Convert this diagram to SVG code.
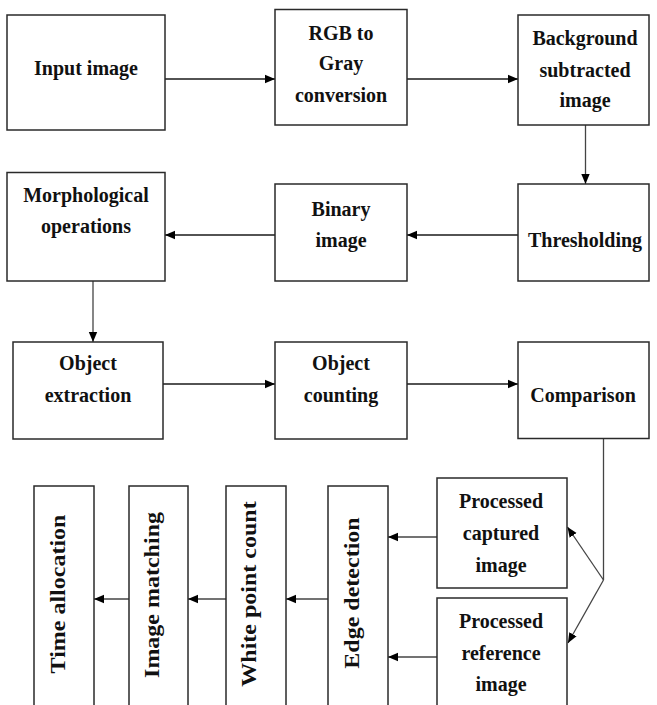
<svg xmlns="http://www.w3.org/2000/svg" width="657" height="705" viewBox="0 0 657 705">
<style>
.box{fill:#fff;stroke:#2a2a2a;stroke-width:1.5}
.t{font-family:"Liberation Serif","Times New Roman",serif;font-weight:bold;font-size:20px;fill:#111;text-anchor:middle}
.v{font-family:"Liberation Serif","Times New Roman",serif;font-weight:bold;font-size:24px;fill:#111;text-anchor:middle}
.c{fill:none;stroke:#1a1a1a;stroke-width:1.7}
.g{fill:none;stroke:#444;stroke-width:1.3}
</style>
<defs>
<marker id="ah" markerUnits="userSpaceOnUse" markerWidth="11" markerHeight="10" refX="10" refY="5" orient="auto">
<path d="M0,0.8 L10,5 L0,9.2 z" fill="#000"/>
</marker>
</defs>
<rect width="657" height="705" fill="#fff"/>
<g id="connectors">
<line class="c" x1="165" y1="79" x2="275" y2="79" marker-end="url(#ah)"/>
<line class="c" x1="407" y1="79" x2="518" y2="79" marker-end="url(#ah)"/>
<line class="g" x1="585.5" y1="125" x2="585.5" y2="184" marker-end="url(#ah)"/>
<line class="c" x1="518" y1="235" x2="407" y2="235" marker-end="url(#ah)"/>
<line class="c" x1="275" y1="235" x2="165" y2="235" marker-end="url(#ah)"/>
<line class="g" x1="93" y1="281" x2="93" y2="342" marker-end="url(#ah)"/>
<line class="c" x1="163" y1="384" x2="275" y2="384" marker-end="url(#ah)"/>
<line class="c" x1="407" y1="384" x2="518" y2="384" marker-end="url(#ah)"/>
<polyline class="g" points="603.5,438 603.5,580"/>
<line class="g" x1="603.5" y1="580" x2="567.5" y2="527" marker-end="url(#ah)"/>
<line class="g" x1="603.5" y1="580" x2="568" y2="643" marker-end="url(#ah)"/>
<line class="g" x1="437" y1="537" x2="388" y2="537" marker-end="url(#ah)"/>
<line class="g" x1="437" y1="657" x2="388" y2="657" marker-end="url(#ah)"/>
<line class="g" x1="328" y1="599" x2="286" y2="599" marker-end="url(#ah)"/>
<line class="g" x1="226" y1="599" x2="188" y2="599" marker-end="url(#ah)"/>
<line class="g" x1="129" y1="599" x2="94" y2="599" marker-end="url(#ah)"/>
</g>
<g id="input">
<rect class="box" x="7" y="15" width="158" height="115"/>
<text class="t" x="86" y="75">Input image</text>
</g>
<g id="rgb2gray">
<rect class="box" x="275" y="9.5" width="132" height="115.5"/>
<text class="t" x="341" y="40">RGB to</text>
<text class="t" x="341" y="70">Gray</text>
<text class="t" x="341" y="102">conversion</text>
</g>
<g id="background">
<rect class="box" x="518" y="15" width="131" height="110"/>
<text class="t" x="585" y="44.5">Background</text>
<text class="t" x="585" y="77">subtracted</text>
<text class="t" x="585" y="107">image</text>
</g>
<g id="thresholding">
<rect class="box" x="518" y="184" width="131" height="97"/>
<text class="t" x="585" y="247">Thresholding</text>
</g>
<g id="binary">
<rect class="box" x="275" y="184" width="132" height="97"/>
<text class="t" x="341" y="216">Binary</text>
<text class="t" x="341" y="247">image</text>
</g>
<g id="morph">
<rect class="box" x="7" y="172.5" width="158" height="108.5"/>
<text class="t" x="86" y="202">Morphological</text>
<text class="t" x="86" y="233">operations</text>
</g>
<g id="extraction">
<rect class="box" x="13" y="342" width="150" height="97"/>
<text class="t" x="88" y="370">Object</text>
<text class="t" x="88" y="402">extraction</text>
</g>
<g id="counting">
<rect class="box" x="275" y="342" width="132" height="97"/>
<text class="t" x="341" y="370">Object</text>
<text class="t" x="341" y="402">counting</text>
</g>
<g id="comparison">
<rect class="box" x="518" y="342" width="131" height="96.5"/>
<text class="t" x="583" y="402">Comparison</text>
</g>
<g id="captured">
<rect class="box" x="437" y="478" width="130" height="110"/>
<text class="t" x="501" y="508">Processed</text>
<text class="t" x="501" y="540">captured</text>
<text class="t" x="501" y="572">image</text>
</g>
<g id="reference">
<rect class="box" x="437" y="598" width="130" height="115"/>
<text class="t" x="501" y="628">Processed</text>
<text class="t" x="501" y="660">reference</text>
<text class="t" x="501" y="691">image</text>
</g>
<g id="edge">
<rect class="box" x="328" y="486" width="60" height="225"/>
<text class="v" transform="translate(358.5,593) rotate(-90) scale(1,0.84)">Edge detection</text>
</g>
<g id="white">
<rect class="box" x="226" y="486" width="60" height="225"/>
<text class="v" transform="translate(255.5,594) rotate(-90) scale(1,0.84)">White point count</text>
</g>
<g id="matching">
<rect class="box" x="129" y="486" width="59" height="225"/>
<text class="v" transform="translate(158.5,595) rotate(-90) scale(1,0.84)">Image matching</text>
</g>
<g id="time">
<rect class="box" x="34" y="486" width="60" height="225"/>
<text class="v" transform="translate(65,594) rotate(-90) scale(1,0.84)">Time allocation</text>
</g>
</svg>
